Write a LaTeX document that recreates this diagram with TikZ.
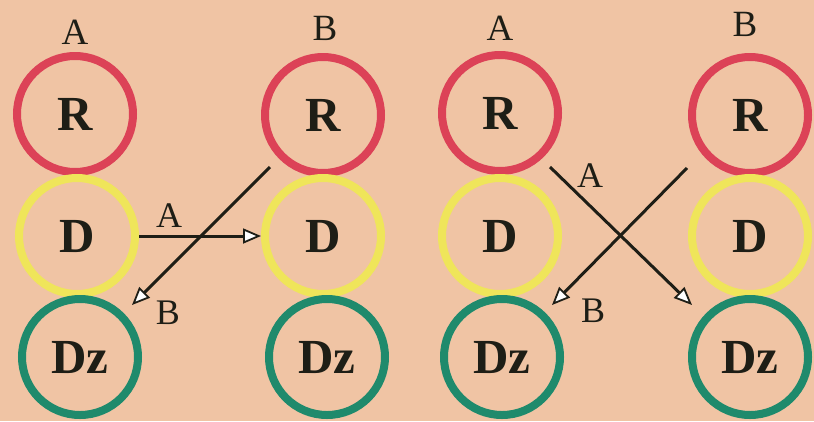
\documentclass[tikz,border=0pt]{standalone}
\usepackage{fontspec}
\setmainfont{Liberation Serif}[BoldFont={Liberation Serif Bold}]
\usetikzlibrary{arrows.meta}
\definecolor{bg}{HTML}{F0C4A4}
\definecolor{ringred}{HTML}{DC4257}
\definecolor{ringyellow}{HTML}{EFE55A}
\definecolor{ringgreen}{HTML}{1F8A6C}
\definecolor{ink}{HTML}{1E1E16}
\tikzset{
  ring/.style={circle, minimum size=116pt, inner sep=0pt, line width=8pt, text=ink,
    font=\fontsize{49}{49}\selectfont\bfseries},
  rred/.style={ring, draw=ringred},
  ryellow/.style={ring, draw=ringyellow},
  rgreen/.style={ring, draw=ringgreen},
  toplabel/.style={text=ink, font=\fontsize{37}{37}\selectfont, inner sep=0pt},
  arrlabel/.style={text=ink, font=\fontsize{36}{36}\selectfont, inner sep=0pt},
  flow/.style={line width=3pt, draw=ink, -{Triangle[fill=white, length=18pt, width=15pt, line width=1.8pt]}},
}
\begin{document}
\begin{tikzpicture}[x=1pt, y=-1pt]
\fill[bg] (0,0) rectangle (814,421);
\useasboundingbox (0,0) rectangle (814,421);
% column 1
\node[rred] (R1) at (75,114) {R};
\node[ryellow] (D1) at (77,236) {D};
\node[rgreen] (Z1) at (80,357) {Dz};
% column 2
\node[rred] (R2) at (323,115) {R};
\node[ryellow] (D2) at (323,236) {D};
\node[rgreen] (Z2) at (327,357) {Dz};
% column 3
\node[rred] (R3) at (500,113) {R};
\node[ryellow] (D3) at (500,236) {D};
\node[rgreen] (Z3) at (502,357) {Dz};
% column 4
\node[rred] (R4) at (750,115) {R};
\node[ryellow] (D4) at (750,236) {D};
\node[rgreen] (Z4) at (750,357) {Dz};
% top labels
\node[toplabel] (tA1) at (75,32) {A};
\node[toplabel] (tB1) at (325,28) {B};
\node[toplabel] (tA2) at (500,28) {A};
\node[toplabel] (tB2) at (745,24) {B};
% panel 1 arrows
\draw[flow] (D1.east) -- (D2.west);
\coordinate (s1) at (270,167);
\coordinate (e1) at (132,305);
\draw[flow] (s1) -- (e1);
\node[arrlabel] (lA1) at (169,216) {A};
\node[arrlabel] (lB1) at (168,313) {B};
% panel 2 arrows
\coordinate (s2) at (550,167);
\coordinate (e2) at (692,305);
\coordinate (s3) at (687,168);
\coordinate (e3) at (552,305);
\draw[flow] (s2) -- (e2);
\draw[flow] (s3) -- (e3);
\node[arrlabel] (lA2) at (590,176) {A};
\node[arrlabel] (lB2) at (593,311) {B};
\end{tikzpicture}
\end{document}
